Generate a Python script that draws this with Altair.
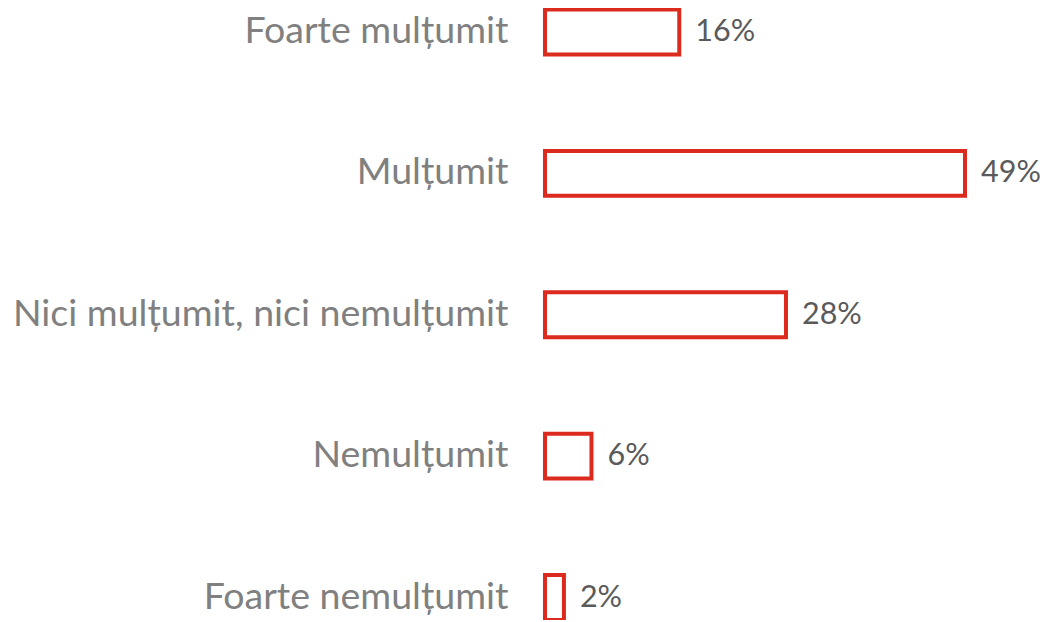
import altair as alt
import pandas as pd

categories = [
    "Foarte mulțumit",
    "Mulțumit",
    "Nici mulțumit, nici nemulțumit",
    "Nemulțumit",
    "Foarte nemulțumit",
]
values = [15.6, 48.8, 28.0, 5.4, 2.2]
pct_labels = ["16%", "49%", "28%", "6%", "2%"]

df = pd.DataFrame({"cat": categories, "val": values, "lab": pct_labels})

FONT = "Lato"

y = alt.Y(
    "cat:N",
    sort=categories,
    scale=alt.Scale(paddingInner=0.6817, paddingOuter=0.0),
    axis=alt.Axis(
        title=None, domain=False, ticks=False, labelPadding=37,
        labelFont=FONT, labelFontSize=37.5, labelColor="#808080",
        labelLimit=600,
    ),
)
x = alt.X("val:Q", scale=alt.Scale(domain=[0, 48.8]), axis=None)

bars = alt.Chart(df).mark_bar(
    fill="white", stroke="#dc2a1f", strokeWidth=4
).encode(x=x, y=y)

text = alt.Chart(df).mark_text(
    align="left", baseline="middle", dx=16, font=FONT, fontSize=30.5,
    color="#5a5a5a"
).encode(x=x, y=y, text="lab:N")

chart = (bars + text).properties(
    width=420, height=610.5,
    padding={"left": 537, "top": 1.5, "right": 75, "bottom": 0},
    autosize=alt.AutoSizeParams(type="none"),
).configure_view(stroke=None)

chart.save("out.html", embed_options={"renderer": "svg", "actions": False})
